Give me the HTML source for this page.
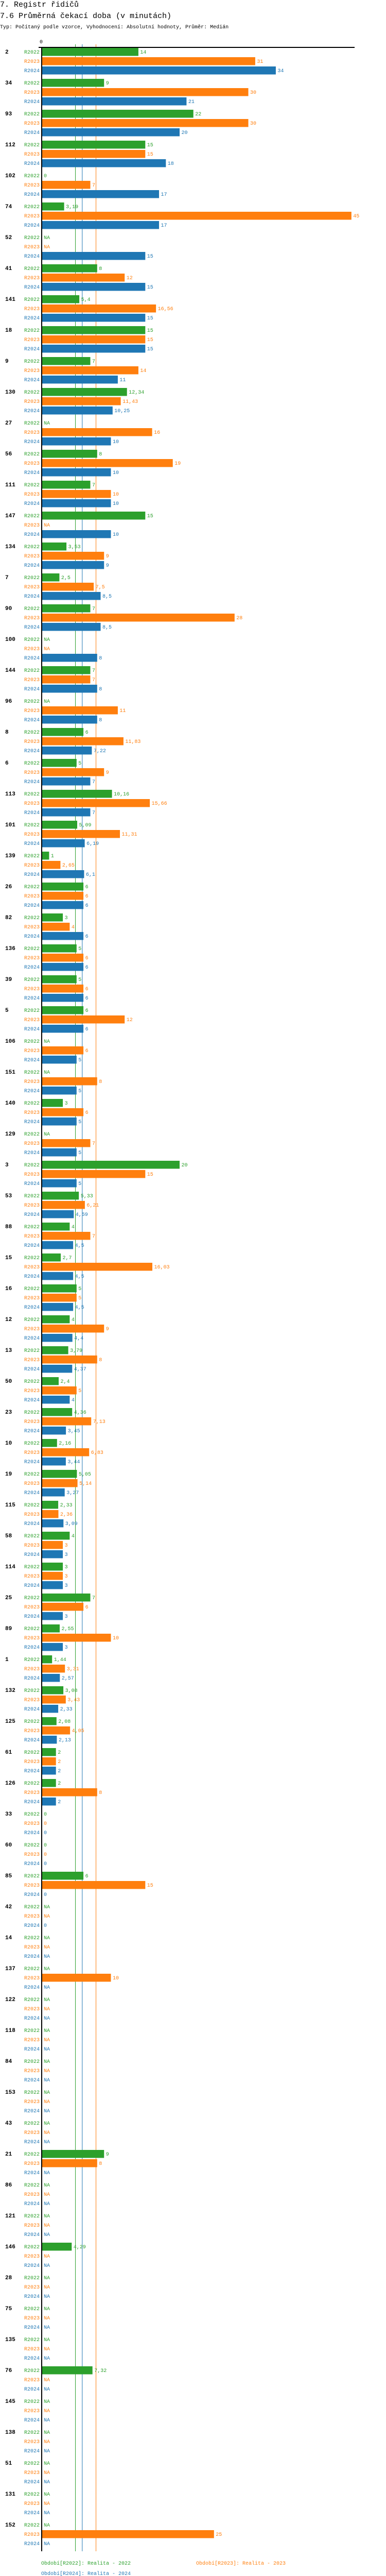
<!DOCTYPE html>
<html><head><meta charset="utf-8"><style>
html,body{margin:0;padding:0;background:#fff}
svg{display:block;vertical-align:top}
text{font-family:"Liberation Mono","DejaVu Sans Mono",monospace;font-size:10px}
.n{font-weight:bold;font-size:11px;fill:#000}
.l{text-anchor:end}
.a{fill:#2ca02c}.b{fill:#ff7f0e}.c{fill:#1f77b4}
.h{font-size:15px;fill:#000}
</style></head><body><svg width="750" height="5072" viewBox="0 0 750 5072" xmlns="http://www.w3.org/2000/svg">
<text class="h" x="0" y="13">7. Registr řidičů</text>
<text class="h" x="0" y="35">7.6 Průměrná čekací doba (v minutách)</text>
<text x="0" y="55" fill="#000">Typ: Počítaný podle vzorce, Vyhodnocení: Absolutní hodnoty, Průměr: Medián</text>
<text x="80" y="84" text-anchor="middle" fill="#000">0</text>
<rect x="146" y="86" width="1" height="4866" fill="#2ca02c"/>
<rect x="159.3" y="86" width="1" height="4866" fill="#1f77b4"/>
<rect x="186" y="86" width="1" height="4866" fill="#ff7f0e"/>
<rect x="75" y="91" width="614" height="2" fill="#000"/>
<rect x="80" y="91" width="2" height="4861" fill="#000"/>

<g transform="translate(0,93)"><text class="n" x="10" y="11">2</text><text class="l a" x="77" y="11">R2022</text><text class="l b" x="77" y="29">R2023</text><text class="l c" x="77" y="47">R2024</text>
<rect class="a" x="82" y="0" width="186.9" height="15.5"/><text class="a" x="272.4" y="11">14</text>
<rect class="b" x="82" y="18" width="413.9" height="15.5"/><text class="b" x="499.4" y="29">31</text>
<rect class="c" x="82" y="36" width="453.9" height="15.5"/><text class="c" x="539.4" y="47">34</text></g>

<g transform="translate(0,153)"><text class="n" x="10" y="11">34</text><text class="l a" x="77" y="11">R2022</text><text class="l b" x="77" y="29">R2023</text><text class="l c" x="77" y="47">R2024</text>
<rect class="a" x="82" y="0" width="120.2" height="15.5"/><text class="a" x="205.7" y="11">9</text>
<rect class="b" x="82" y="18" width="400.5" height="15.5"/><text class="b" x="486" y="29">30</text>
<rect class="c" x="82" y="36" width="280.4" height="15.5"/><text class="c" x="365.9" y="47">21</text></g>

<g transform="translate(0,213)"><text class="n" x="10" y="11">93</text><text class="l a" x="77" y="11">R2022</text><text class="l b" x="77" y="29">R2023</text><text class="l c" x="77" y="47">R2024</text>
<rect class="a" x="82" y="0" width="293.7" height="15.5"/><text class="a" x="379.2" y="11">22</text>
<rect class="b" x="82" y="18" width="400.5" height="15.5"/><text class="b" x="486" y="29">30</text>
<rect class="c" x="82" y="36" width="267" height="15.5"/><text class="c" x="352.5" y="47">20</text></g>

<g transform="translate(0,273)"><text class="n" x="10" y="11">112</text><text class="l a" x="77" y="11">R2022</text><text class="l b" x="77" y="29">R2023</text><text class="l c" x="77" y="47">R2024</text>
<rect class="a" x="82" y="0" width="200.3" height="15.5"/><text class="a" x="285.8" y="11">15</text>
<rect class="b" x="82" y="18" width="200.3" height="15.5"/><text class="b" x="285.8" y="29">15</text>
<rect class="c" x="82" y="36" width="240.3" height="15.5"/><text class="c" x="325.8" y="47">18</text></g>

<g transform="translate(0,333)"><text class="n" x="10" y="11">102</text><text class="l a" x="77" y="11">R2022</text><text class="l b" x="77" y="29">R2023</text><text class="l c" x="77" y="47">R2024</text>
<text class="a" x="85" y="11">0</text>
<rect class="b" x="82" y="18" width="93.5" height="15.5"/><text class="b" x="179" y="29">7</text>
<rect class="c" x="82" y="36" width="227" height="15.5"/><text class="c" x="312.5" y="47">17</text></g>

<g transform="translate(0,393)"><text class="n" x="10" y="11">74</text><text class="l a" x="77" y="11">R2022</text><text class="l b" x="77" y="29">R2023</text><text class="l c" x="77" y="47">R2024</text>
<rect class="a" x="82" y="0" width="42.6" height="15.5"/><text class="a" x="128.1" y="11">3,19</text>
<rect class="b" x="82" y="18" width="600.8" height="15.5"/><text class="b" x="686.3" y="29">45</text>
<rect class="c" x="82" y="36" width="227" height="15.5"/><text class="c" x="312.5" y="47">17</text></g>

<g transform="translate(0,453)"><text class="n" x="10" y="11">52</text><text class="l a" x="77" y="11">R2022</text><text class="l b" x="77" y="29">R2023</text><text class="l c" x="77" y="47">R2024</text>
<text class="a" x="85" y="11">NA</text>
<text class="b" x="85" y="29">NA</text>
<rect class="c" x="82" y="36" width="200.3" height="15.5"/><text class="c" x="285.8" y="47">15</text></g>

<g transform="translate(0,513)"><text class="n" x="10" y="11">41</text><text class="l a" x="77" y="11">R2022</text><text class="l b" x="77" y="29">R2023</text><text class="l c" x="77" y="47">R2024</text>
<rect class="a" x="82" y="0" width="106.8" height="15.5"/><text class="a" x="192.3" y="11">8</text>
<rect class="b" x="82" y="18" width="160.2" height="15.5"/><text class="b" x="245.7" y="29">12</text>
<rect class="c" x="82" y="36" width="200.3" height="15.5"/><text class="c" x="285.8" y="47">15</text></g>

<g transform="translate(0,573)"><text class="n" x="10" y="11">141</text><text class="l a" x="77" y="11">R2022</text><text class="l b" x="77" y="29">R2023</text><text class="l c" x="77" y="47">R2024</text>
<rect class="a" x="82" y="0" width="72.1" height="15.5"/><text class="a" x="157.6" y="11">5,4</text>
<rect class="b" x="82" y="18" width="221.1" height="15.5"/><text class="b" x="306.6" y="29">16,56</text>
<rect class="c" x="82" y="36" width="200.3" height="15.5"/><text class="c" x="285.8" y="47">15</text></g>

<g transform="translate(0,633)"><text class="n" x="10" y="11">18</text><text class="l a" x="77" y="11">R2022</text><text class="l b" x="77" y="29">R2023</text><text class="l c" x="77" y="47">R2024</text>
<rect class="a" x="82" y="0" width="200.3" height="15.5"/><text class="a" x="285.8" y="11">15</text>
<rect class="b" x="82" y="18" width="200.3" height="15.5"/><text class="b" x="285.8" y="29">15</text>
<rect class="c" x="82" y="36" width="200.3" height="15.5"/><text class="c" x="285.8" y="47">15</text></g>

<g transform="translate(0,693)"><text class="n" x="10" y="11">9</text><text class="l a" x="77" y="11">R2022</text><text class="l b" x="77" y="29">R2023</text><text class="l c" x="77" y="47">R2024</text>
<rect class="a" x="82" y="0" width="93.5" height="15.5"/><text class="a" x="179" y="11">7</text>
<rect class="b" x="82" y="18" width="186.9" height="15.5"/><text class="b" x="272.4" y="29">14</text>
<rect class="c" x="82" y="36" width="146.9" height="15.5"/><text class="c" x="232.4" y="47">11</text></g>

<g transform="translate(0,753)"><text class="n" x="10" y="11">130</text><text class="l a" x="77" y="11">R2022</text><text class="l b" x="77" y="29">R2023</text><text class="l c" x="77" y="47">R2024</text>
<rect class="a" x="82" y="0" width="164.7" height="15.5"/><text class="a" x="250.2" y="11">12,34</text>
<rect class="b" x="82" y="18" width="152.6" height="15.5"/><text class="b" x="238.1" y="29">11,43</text>
<rect class="c" x="82" y="36" width="136.8" height="15.5"/><text class="c" x="222.3" y="47">10,25</text></g>

<g transform="translate(0,813)"><text class="n" x="10" y="11">27</text><text class="l a" x="77" y="11">R2022</text><text class="l b" x="77" y="29">R2023</text><text class="l c" x="77" y="47">R2024</text>
<text class="a" x="85" y="11">NA</text>
<rect class="b" x="82" y="18" width="213.6" height="15.5"/><text class="b" x="299.1" y="29">16</text>
<rect class="c" x="82" y="36" width="133.5" height="15.5"/><text class="c" x="219" y="47">10</text></g>

<g transform="translate(0,873)"><text class="n" x="10" y="11">56</text><text class="l a" x="77" y="11">R2022</text><text class="l b" x="77" y="29">R2023</text><text class="l c" x="77" y="47">R2024</text>
<rect class="a" x="82" y="0" width="106.8" height="15.5"/><text class="a" x="192.3" y="11">8</text>
<rect class="b" x="82" y="18" width="253.7" height="15.5"/><text class="b" x="339.2" y="29">19</text>
<rect class="c" x="82" y="36" width="133.5" height="15.5"/><text class="c" x="219" y="47">10</text></g>

<g transform="translate(0,933)"><text class="n" x="10" y="11">111</text><text class="l a" x="77" y="11">R2022</text><text class="l b" x="77" y="29">R2023</text><text class="l c" x="77" y="47">R2024</text>
<rect class="a" x="82" y="0" width="93.5" height="15.5"/><text class="a" x="179" y="11">7</text>
<rect class="b" x="82" y="18" width="133.5" height="15.5"/><text class="b" x="219" y="29">10</text>
<rect class="c" x="82" y="36" width="133.5" height="15.5"/><text class="c" x="219" y="47">10</text></g>

<g transform="translate(0,993)"><text class="n" x="10" y="11">147</text><text class="l a" x="77" y="11">R2022</text><text class="l b" x="77" y="29">R2023</text><text class="l c" x="77" y="47">R2024</text>
<rect class="a" x="82" y="0" width="200.3" height="15.5"/><text class="a" x="285.8" y="11">15</text>
<text class="b" x="85" y="29">NA</text>
<rect class="c" x="82" y="36" width="133.5" height="15.5"/><text class="c" x="219" y="47">10</text></g>

<g transform="translate(0,1053)"><text class="n" x="10" y="11">134</text><text class="l a" x="77" y="11">R2022</text><text class="l b" x="77" y="29">R2023</text><text class="l c" x="77" y="47">R2024</text>
<rect class="a" x="82" y="0" width="47.1" height="15.5"/><text class="a" x="132.6" y="11">3,53</text>
<rect class="b" x="82" y="18" width="120.2" height="15.5"/><text class="b" x="205.7" y="29">9</text>
<rect class="c" x="82" y="36" width="120.2" height="15.5"/><text class="c" x="205.7" y="47">9</text></g>

<g transform="translate(0,1113)"><text class="n" x="10" y="11">7</text><text class="l a" x="77" y="11">R2022</text><text class="l b" x="77" y="29">R2023</text><text class="l c" x="77" y="47">R2024</text>
<rect class="a" x="82" y="0" width="33.4" height="15.5"/><text class="a" x="118.9" y="11">2,5</text>
<rect class="b" x="82" y="18" width="100.1" height="15.5"/><text class="b" x="185.6" y="29">7,5</text>
<rect class="c" x="82" y="36" width="113.5" height="15.5"/><text class="c" x="199" y="47">8,5</text></g>

<g transform="translate(0,1173)"><text class="n" x="10" y="11">90</text><text class="l a" x="77" y="11">R2022</text><text class="l b" x="77" y="29">R2023</text><text class="l c" x="77" y="47">R2024</text>
<rect class="a" x="82" y="0" width="93.5" height="15.5"/><text class="a" x="179" y="11">7</text>
<rect class="b" x="82" y="18" width="373.8" height="15.5"/><text class="b" x="459.3" y="29">28</text>
<rect class="c" x="82" y="36" width="113.5" height="15.5"/><text class="c" x="199" y="47">8,5</text></g>

<g transform="translate(0,1233)"><text class="n" x="10" y="11">100</text><text class="l a" x="77" y="11">R2022</text><text class="l b" x="77" y="29">R2023</text><text class="l c" x="77" y="47">R2024</text>
<text class="a" x="85" y="11">NA</text>
<text class="b" x="85" y="29">NA</text>
<rect class="c" x="82" y="36" width="106.8" height="15.5"/><text class="c" x="192.3" y="47">8</text></g>

<g transform="translate(0,1293)"><text class="n" x="10" y="11">144</text><text class="l a" x="77" y="11">R2022</text><text class="l b" x="77" y="29">R2023</text><text class="l c" x="77" y="47">R2024</text>
<rect class="a" x="82" y="0" width="93.5" height="15.5"/><text class="a" x="179" y="11">7</text>
<rect class="b" x="82" y="18" width="93.5" height="15.5"/><text class="b" x="179" y="29">7</text>
<rect class="c" x="82" y="36" width="106.8" height="15.5"/><text class="c" x="192.3" y="47">8</text></g>

<g transform="translate(0,1353)"><text class="n" x="10" y="11">96</text><text class="l a" x="77" y="11">R2022</text><text class="l b" x="77" y="29">R2023</text><text class="l c" x="77" y="47">R2024</text>
<text class="a" x="85" y="11">NA</text>
<rect class="b" x="82" y="18" width="146.9" height="15.5"/><text class="b" x="232.4" y="29">11</text>
<rect class="c" x="82" y="36" width="106.8" height="15.5"/><text class="c" x="192.3" y="47">8</text></g>

<g transform="translate(0,1413)"><text class="n" x="10" y="11">8</text><text class="l a" x="77" y="11">R2022</text><text class="l b" x="77" y="29">R2023</text><text class="l c" x="77" y="47">R2024</text>
<rect class="a" x="82" y="0" width="80.1" height="15.5"/><text class="a" x="165.6" y="11">6</text>
<rect class="b" x="82" y="18" width="157.9" height="15.5"/><text class="b" x="243.4" y="29">11,83</text>
<rect class="c" x="82" y="36" width="96.4" height="15.5"/><text class="c" x="181.9" y="47">7,22</text></g>

<g transform="translate(0,1473)"><text class="n" x="10" y="11">6</text><text class="l a" x="77" y="11">R2022</text><text class="l b" x="77" y="29">R2023</text><text class="l c" x="77" y="47">R2024</text>
<rect class="a" x="82" y="0" width="66.8" height="15.5"/><text class="a" x="152.3" y="11">5</text>
<rect class="b" x="82" y="18" width="120.2" height="15.5"/><text class="b" x="205.7" y="29">9</text>
<rect class="c" x="82" y="36" width="93.5" height="15.5"/><text class="c" x="179" y="47">7</text></g>

<g transform="translate(0,1533)"><text class="n" x="10" y="11">113</text><text class="l a" x="77" y="11">R2022</text><text class="l b" x="77" y="29">R2023</text><text class="l c" x="77" y="47">R2024</text>
<rect class="a" x="82" y="0" width="135.6" height="15.5"/><text class="a" x="221.1" y="11">10,16</text>
<rect class="b" x="82" y="18" width="209.1" height="15.5"/><text class="b" x="294.6" y="29">15,66</text>
<rect class="c" x="82" y="36" width="93.5" height="15.5"/><text class="c" x="179" y="47">7</text></g>

<g transform="translate(0,1593)"><text class="n" x="10" y="11">101</text><text class="l a" x="77" y="11">R2022</text><text class="l b" x="77" y="29">R2023</text><text class="l c" x="77" y="47">R2024</text>
<rect class="a" x="82" y="0" width="68" height="15.5"/><text class="a" x="153.5" y="11">5,09</text>
<rect class="b" x="82" y="18" width="151" height="15.5"/><text class="b" x="236.5" y="29">11,31</text>
<rect class="c" x="82" y="36" width="82.6" height="15.5"/><text class="c" x="168.1" y="47">6,19</text></g>

<g transform="translate(0,1653)"><text class="n" x="10" y="11">139</text><text class="l a" x="77" y="11">R2022</text><text class="l b" x="77" y="29">R2023</text><text class="l c" x="77" y="47">R2024</text>
<rect class="a" x="82" y="0" width="13.4" height="15.5"/><text class="a" x="98.9" y="11">1</text>
<rect class="b" x="82" y="18" width="35.4" height="15.5"/><text class="b" x="120.9" y="29">2,65</text>
<rect class="c" x="82" y="36" width="81.4" height="15.5"/><text class="c" x="166.9" y="47">6,1</text></g>

<g transform="translate(0,1713)"><text class="n" x="10" y="11">26</text><text class="l a" x="77" y="11">R2022</text><text class="l b" x="77" y="29">R2023</text><text class="l c" x="77" y="47">R2024</text>
<rect class="a" x="82" y="0" width="80.1" height="15.5"/><text class="a" x="165.6" y="11">6</text>
<rect class="b" x="82" y="18" width="80.1" height="15.5"/><text class="b" x="165.6" y="29">6</text>
<rect class="c" x="82" y="36" width="80.1" height="15.5"/><text class="c" x="165.6" y="47">6</text></g>

<g transform="translate(0,1773)"><text class="n" x="10" y="11">82</text><text class="l a" x="77" y="11">R2022</text><text class="l b" x="77" y="29">R2023</text><text class="l c" x="77" y="47">R2024</text>
<rect class="a" x="82" y="0" width="40.1" height="15.5"/><text class="a" x="125.6" y="11">3</text>
<rect class="b" x="82" y="18" width="53.4" height="15.5"/><text class="b" x="138.9" y="29">4</text>
<rect class="c" x="82" y="36" width="80.1" height="15.5"/><text class="c" x="165.6" y="47">6</text></g>

<g transform="translate(0,1833)"><text class="n" x="10" y="11">136</text><text class="l a" x="77" y="11">R2022</text><text class="l b" x="77" y="29">R2023</text><text class="l c" x="77" y="47">R2024</text>
<rect class="a" x="82" y="0" width="66.8" height="15.5"/><text class="a" x="152.3" y="11">5</text>
<rect class="b" x="82" y="18" width="80.1" height="15.5"/><text class="b" x="165.6" y="29">6</text>
<rect class="c" x="82" y="36" width="80.1" height="15.5"/><text class="c" x="165.6" y="47">6</text></g>

<g transform="translate(0,1893)"><text class="n" x="10" y="11">39</text><text class="l a" x="77" y="11">R2022</text><text class="l b" x="77" y="29">R2023</text><text class="l c" x="77" y="47">R2024</text>
<rect class="a" x="82" y="0" width="66.8" height="15.5"/><text class="a" x="152.3" y="11">5</text>
<rect class="b" x="82" y="18" width="80.1" height="15.5"/><text class="b" x="165.6" y="29">6</text>
<rect class="c" x="82" y="36" width="80.1" height="15.5"/><text class="c" x="165.6" y="47">6</text></g>

<g transform="translate(0,1953)"><text class="n" x="10" y="11">5</text><text class="l a" x="77" y="11">R2022</text><text class="l b" x="77" y="29">R2023</text><text class="l c" x="77" y="47">R2024</text>
<rect class="a" x="82" y="0" width="80.1" height="15.5"/><text class="a" x="165.6" y="11">6</text>
<rect class="b" x="82" y="18" width="160.2" height="15.5"/><text class="b" x="245.7" y="29">12</text>
<rect class="c" x="82" y="36" width="80.1" height="15.5"/><text class="c" x="165.6" y="47">6</text></g>

<g transform="translate(0,2013)"><text class="n" x="10" y="11">106</text><text class="l a" x="77" y="11">R2022</text><text class="l b" x="77" y="29">R2023</text><text class="l c" x="77" y="47">R2024</text>
<text class="a" x="85" y="11">NA</text>
<rect class="b" x="82" y="18" width="80.1" height="15.5"/><text class="b" x="165.6" y="29">6</text>
<rect class="c" x="82" y="36" width="66.8" height="15.5"/><text class="c" x="152.3" y="47">5</text></g>

<g transform="translate(0,2073)"><text class="n" x="10" y="11">151</text><text class="l a" x="77" y="11">R2022</text><text class="l b" x="77" y="29">R2023</text><text class="l c" x="77" y="47">R2024</text>
<text class="a" x="85" y="11">NA</text>
<rect class="b" x="82" y="18" width="106.8" height="15.5"/><text class="b" x="192.3" y="29">8</text>
<rect class="c" x="82" y="36" width="66.8" height="15.5"/><text class="c" x="152.3" y="47">5</text></g>

<g transform="translate(0,2133)"><text class="n" x="10" y="11">140</text><text class="l a" x="77" y="11">R2022</text><text class="l b" x="77" y="29">R2023</text><text class="l c" x="77" y="47">R2024</text>
<rect class="a" x="82" y="0" width="40.1" height="15.5"/><text class="a" x="125.6" y="11">3</text>
<rect class="b" x="82" y="18" width="80.1" height="15.5"/><text class="b" x="165.6" y="29">6</text>
<rect class="c" x="82" y="36" width="66.8" height="15.5"/><text class="c" x="152.3" y="47">5</text></g>

<g transform="translate(0,2193)"><text class="n" x="10" y="11">129</text><text class="l a" x="77" y="11">R2022</text><text class="l b" x="77" y="29">R2023</text><text class="l c" x="77" y="47">R2024</text>
<text class="a" x="85" y="11">NA</text>
<rect class="b" x="82" y="18" width="93.5" height="15.5"/><text class="b" x="179" y="29">7</text>
<rect class="c" x="82" y="36" width="66.8" height="15.5"/><text class="c" x="152.3" y="47">5</text></g>

<g transform="translate(0,2253)"><text class="n" x="10" y="11">3</text><text class="l a" x="77" y="11">R2022</text><text class="l b" x="77" y="29">R2023</text><text class="l c" x="77" y="47">R2024</text>
<rect class="a" x="82" y="0" width="267" height="15.5"/><text class="a" x="352.5" y="11">20</text>
<rect class="b" x="82" y="18" width="200.3" height="15.5"/><text class="b" x="285.8" y="29">15</text>
<rect class="c" x="82" y="36" width="66.8" height="15.5"/><text class="c" x="152.3" y="47">5</text></g>

<g transform="translate(0,2313)"><text class="n" x="10" y="11">53</text><text class="l a" x="77" y="11">R2022</text><text class="l b" x="77" y="29">R2023</text><text class="l c" x="77" y="47">R2024</text>
<rect class="a" x="82" y="0" width="71.2" height="15.5"/><text class="a" x="156.7" y="11">5,33</text>
<rect class="b" x="82" y="18" width="82.9" height="15.5"/><text class="b" x="168.4" y="29">6,21</text>
<rect class="c" x="82" y="36" width="61.3" height="15.5"/><text class="c" x="146.8" y="47">4,59</text></g>

<g transform="translate(0,2373)"><text class="n" x="10" y="11">88</text><text class="l a" x="77" y="11">R2022</text><text class="l b" x="77" y="29">R2023</text><text class="l c" x="77" y="47">R2024</text>
<rect class="a" x="82" y="0" width="53.4" height="15.5"/><text class="a" x="138.9" y="11">4</text>
<rect class="b" x="82" y="18" width="93.5" height="15.5"/><text class="b" x="179" y="29">7</text>
<rect class="c" x="82" y="36" width="60.1" height="15.5"/><text class="c" x="145.6" y="47">4,5</text></g>

<g transform="translate(0,2433)"><text class="n" x="10" y="11">15</text><text class="l a" x="77" y="11">R2022</text><text class="l b" x="77" y="29">R2023</text><text class="l c" x="77" y="47">R2024</text>
<rect class="a" x="82" y="0" width="36" height="15.5"/><text class="a" x="121.5" y="11">2,7</text>
<rect class="b" x="82" y="18" width="214" height="15.5"/><text class="b" x="299.5" y="29">16,03</text>
<rect class="c" x="82" y="36" width="60.1" height="15.5"/><text class="c" x="145.6" y="47">4,5</text></g>

<g transform="translate(0,2493)"><text class="n" x="10" y="11">16</text><text class="l a" x="77" y="11">R2022</text><text class="l b" x="77" y="29">R2023</text><text class="l c" x="77" y="47">R2024</text>
<rect class="a" x="82" y="0" width="66.8" height="15.5"/><text class="a" x="152.3" y="11">5</text>
<rect class="b" x="82" y="18" width="66.8" height="15.5"/><text class="b" x="152.3" y="29">5</text>
<rect class="c" x="82" y="36" width="60.1" height="15.5"/><text class="c" x="145.6" y="47">4,5</text></g>

<g transform="translate(0,2553)"><text class="n" x="10" y="11">12</text><text class="l a" x="77" y="11">R2022</text><text class="l b" x="77" y="29">R2023</text><text class="l c" x="77" y="47">R2024</text>
<rect class="a" x="82" y="0" width="53.4" height="15.5"/><text class="a" x="138.9" y="11">4</text>
<rect class="b" x="82" y="18" width="120.2" height="15.5"/><text class="b" x="205.7" y="29">9</text>
<rect class="c" x="82" y="36" width="58.7" height="15.5"/><text class="c" x="144.2" y="47">4,4</text></g>

<g transform="translate(0,2613)"><text class="n" x="10" y="11">13</text><text class="l a" x="77" y="11">R2022</text><text class="l b" x="77" y="29">R2023</text><text class="l c" x="77" y="47">R2024</text>
<rect class="a" x="82" y="0" width="50.6" height="15.5"/><text class="a" x="136.1" y="11">3,79</text>
<rect class="b" x="82" y="18" width="106.8" height="15.5"/><text class="b" x="192.3" y="29">8</text>
<rect class="c" x="82" y="36" width="58.3" height="15.5"/><text class="c" x="143.8" y="47">4,37</text></g>

<g transform="translate(0,2673)"><text class="n" x="10" y="11">50</text><text class="l a" x="77" y="11">R2022</text><text class="l b" x="77" y="29">R2023</text><text class="l c" x="77" y="47">R2024</text>
<rect class="a" x="82" y="0" width="32" height="15.5"/><text class="a" x="117.5" y="11">2,4</text>
<rect class="b" x="82" y="18" width="66.8" height="15.5"/><text class="b" x="152.3" y="29">5</text>
<rect class="c" x="82" y="36" width="53.4" height="15.5"/><text class="c" x="138.9" y="47">4</text></g>

<g transform="translate(0,2733)"><text class="n" x="10" y="11">23</text><text class="l a" x="77" y="11">R2022</text><text class="l b" x="77" y="29">R2023</text><text class="l c" x="77" y="47">R2024</text>
<rect class="a" x="82" y="0" width="58.2" height="15.5"/><text class="a" x="143.7" y="11">4,36</text>
<rect class="b" x="82" y="18" width="95.2" height="15.5"/><text class="b" x="180.7" y="29">7,13</text>
<rect class="c" x="82" y="36" width="46.1" height="15.5"/><text class="c" x="131.6" y="47">3,45</text></g>

<g transform="translate(0,2793)"><text class="n" x="10" y="11">10</text><text class="l a" x="77" y="11">R2022</text><text class="l b" x="77" y="29">R2023</text><text class="l c" x="77" y="47">R2024</text>
<rect class="a" x="82" y="0" width="28.8" height="15.5"/><text class="a" x="114.3" y="11">2,16</text>
<rect class="b" x="82" y="18" width="91.2" height="15.5"/><text class="b" x="176.7" y="29">6,83</text>
<rect class="c" x="82" y="36" width="45.9" height="15.5"/><text class="c" x="131.4" y="47">3,44</text></g>

<g transform="translate(0,2853)"><text class="n" x="10" y="11">19</text><text class="l a" x="77" y="11">R2022</text><text class="l b" x="77" y="29">R2023</text><text class="l c" x="77" y="47">R2024</text>
<rect class="a" x="82" y="0" width="67.4" height="15.5"/><text class="a" x="152.9" y="11">5,05</text>
<rect class="b" x="82" y="18" width="68.6" height="15.5"/><text class="b" x="154.1" y="29">5,14</text>
<rect class="c" x="82" y="36" width="43.7" height="15.5"/><text class="c" x="129.2" y="47">3,27</text></g>

<g transform="translate(0,2913)"><text class="n" x="10" y="11">115</text><text class="l a" x="77" y="11">R2022</text><text class="l b" x="77" y="29">R2023</text><text class="l c" x="77" y="47">R2024</text>
<rect class="a" x="82" y="0" width="31.1" height="15.5"/><text class="a" x="116.6" y="11">2,33</text>
<rect class="b" x="82" y="18" width="31.5" height="15.5"/><text class="b" x="117" y="29">2,36</text>
<rect class="c" x="82" y="36" width="41.3" height="15.5"/><text class="c" x="126.8" y="47">3,09</text></g>

<g transform="translate(0,2973)"><text class="n" x="10" y="11">58</text><text class="l a" x="77" y="11">R2022</text><text class="l b" x="77" y="29">R2023</text><text class="l c" x="77" y="47">R2024</text>
<rect class="a" x="82" y="0" width="53.4" height="15.5"/><text class="a" x="138.9" y="11">4</text>
<rect class="b" x="82" y="18" width="40.1" height="15.5"/><text class="b" x="125.6" y="29">3</text>
<rect class="c" x="82" y="36" width="40.1" height="15.5"/><text class="c" x="125.6" y="47">3</text></g>

<g transform="translate(0,3033)"><text class="n" x="10" y="11">114</text><text class="l a" x="77" y="11">R2022</text><text class="l b" x="77" y="29">R2023</text><text class="l c" x="77" y="47">R2024</text>
<rect class="a" x="82" y="0" width="40.1" height="15.5"/><text class="a" x="125.6" y="11">3</text>
<rect class="b" x="82" y="18" width="40.1" height="15.5"/><text class="b" x="125.6" y="29">3</text>
<rect class="c" x="82" y="36" width="40.1" height="15.5"/><text class="c" x="125.6" y="47">3</text></g>

<g transform="translate(0,3093)"><text class="n" x="10" y="11">25</text><text class="l a" x="77" y="11">R2022</text><text class="l b" x="77" y="29">R2023</text><text class="l c" x="77" y="47">R2024</text>
<rect class="a" x="82" y="0" width="93.5" height="15.5"/><text class="a" x="179" y="11">7</text>
<rect class="b" x="82" y="18" width="80.1" height="15.5"/><text class="b" x="165.6" y="29">6</text>
<rect class="c" x="82" y="36" width="40.1" height="15.5"/><text class="c" x="125.6" y="47">3</text></g>

<g transform="translate(0,3153)"><text class="n" x="10" y="11">89</text><text class="l a" x="77" y="11">R2022</text><text class="l b" x="77" y="29">R2023</text><text class="l c" x="77" y="47">R2024</text>
<rect class="a" x="82" y="0" width="34" height="15.5"/><text class="a" x="119.5" y="11">2,55</text>
<rect class="b" x="82" y="18" width="133.5" height="15.5"/><text class="b" x="219" y="29">10</text>
<rect class="c" x="82" y="36" width="40.1" height="15.5"/><text class="c" x="125.6" y="47">3</text></g>

<g transform="translate(0,3213)"><text class="n" x="10" y="11">1</text><text class="l a" x="77" y="11">R2022</text><text class="l b" x="77" y="29">R2023</text><text class="l c" x="77" y="47">R2024</text>
<rect class="a" x="82" y="0" width="19.2" height="15.5"/><text class="a" x="104.7" y="11">1,44</text>
<rect class="b" x="82" y="18" width="44.2" height="15.5"/><text class="b" x="129.7" y="29">3,31</text>
<rect class="c" x="82" y="36" width="34.3" height="15.5"/><text class="c" x="119.8" y="47">2,57</text></g>

<g transform="translate(0,3273)"><text class="n" x="10" y="11">132</text><text class="l a" x="77" y="11">R2022</text><text class="l b" x="77" y="29">R2023</text><text class="l c" x="77" y="47">R2024</text>
<rect class="a" x="82" y="0" width="41.1" height="15.5"/><text class="a" x="126.6" y="11">3,08</text>
<rect class="b" x="82" y="18" width="45.8" height="15.5"/><text class="b" x="131.3" y="29">3,43</text>
<rect class="c" x="82" y="36" width="31.1" height="15.5"/><text class="c" x="116.6" y="47">2,33</text></g>

<g transform="translate(0,3333)"><text class="n" x="10" y="11">125</text><text class="l a" x="77" y="11">R2022</text><text class="l b" x="77" y="29">R2023</text><text class="l c" x="77" y="47">R2024</text>
<rect class="a" x="82" y="0" width="27.8" height="15.5"/><text class="a" x="113.3" y="11">2,08</text>
<rect class="b" x="82" y="18" width="54.1" height="15.5"/><text class="b" x="139.6" y="29">4,05</text>
<rect class="c" x="82" y="36" width="28.4" height="15.5"/><text class="c" x="113.9" y="47">2,13</text></g>

<g transform="translate(0,3393)"><text class="n" x="10" y="11">61</text><text class="l a" x="77" y="11">R2022</text><text class="l b" x="77" y="29">R2023</text><text class="l c" x="77" y="47">R2024</text>
<rect class="a" x="82" y="0" width="26.7" height="15.5"/><text class="a" x="112.2" y="11">2</text>
<rect class="b" x="82" y="18" width="26.7" height="15.5"/><text class="b" x="112.2" y="29">2</text>
<rect class="c" x="82" y="36" width="26.7" height="15.5"/><text class="c" x="112.2" y="47">2</text></g>

<g transform="translate(0,3453)"><text class="n" x="10" y="11">126</text><text class="l a" x="77" y="11">R2022</text><text class="l b" x="77" y="29">R2023</text><text class="l c" x="77" y="47">R2024</text>
<rect class="a" x="82" y="0" width="26.7" height="15.5"/><text class="a" x="112.2" y="11">2</text>
<rect class="b" x="82" y="18" width="106.8" height="15.5"/><text class="b" x="192.3" y="29">8</text>
<rect class="c" x="82" y="36" width="26.7" height="15.5"/><text class="c" x="112.2" y="47">2</text></g>

<g transform="translate(0,3513)"><text class="n" x="10" y="11">33</text><text class="l a" x="77" y="11">R2022</text><text class="l b" x="77" y="29">R2023</text><text class="l c" x="77" y="47">R2024</text>
<text class="a" x="85" y="11">0</text><text class="b" x="85" y="29">0</text><text class="c" x="85" y="47">0</text></g>

<g transform="translate(0,3573)"><text class="n" x="10" y="11">60</text><text class="l a" x="77" y="11">R2022</text><text class="l b" x="77" y="29">R2023</text><text class="l c" x="77" y="47">R2024</text>
<text class="a" x="85" y="11">0</text><text class="b" x="85" y="29">0</text><text class="c" x="85" y="47">0</text></g>

<g transform="translate(0,3633)"><text class="n" x="10" y="11">85</text><text class="l a" x="77" y="11">R2022</text><text class="l b" x="77" y="29">R2023</text><text class="l c" x="77" y="47">R2024</text>
<rect class="a" x="82" y="0" width="80.1" height="15.5"/><text class="a" x="165.6" y="11">6</text>
<rect class="b" x="82" y="18" width="200.3" height="15.5"/><text class="b" x="285.8" y="29">15</text>
<text class="c" x="85" y="47">0</text></g>

<g transform="translate(0,3693)"><text class="n" x="10" y="11">42</text><text class="l a" x="77" y="11">R2022</text><text class="l b" x="77" y="29">R2023</text><text class="l c" x="77" y="47">R2024</text>
<text class="a" x="85" y="11">NA</text><text class="b" x="85" y="29">NA</text><text class="c" x="85" y="47">0</text></g>

<g transform="translate(0,3753)"><text class="n" x="10" y="11">14</text><text class="l a" x="77" y="11">R2022</text><text class="l b" x="77" y="29">R2023</text><text class="l c" x="77" y="47">R2024</text>
<text class="a" x="85" y="11">NA</text><text class="b" x="85" y="29">NA</text><text class="c" x="85" y="47">NA</text></g>

<g transform="translate(0,3813)"><text class="n" x="10" y="11">137</text><text class="l a" x="77" y="11">R2022</text><text class="l b" x="77" y="29">R2023</text><text class="l c" x="77" y="47">R2024</text>
<text class="a" x="85" y="11">NA</text>
<rect class="b" x="82" y="18" width="133.5" height="15.5"/><text class="b" x="219" y="29">10</text>
<text class="c" x="85" y="47">NA</text></g>

<g transform="translate(0,3873)"><text class="n" x="10" y="11">122</text><text class="l a" x="77" y="11">R2022</text><text class="l b" x="77" y="29">R2023</text><text class="l c" x="77" y="47">R2024</text>
<text class="a" x="85" y="11">NA</text><text class="b" x="85" y="29">NA</text><text class="c" x="85" y="47">NA</text></g>

<g transform="translate(0,3933)"><text class="n" x="10" y="11">118</text><text class="l a" x="77" y="11">R2022</text><text class="l b" x="77" y="29">R2023</text><text class="l c" x="77" y="47">R2024</text>
<text class="a" x="85" y="11">NA</text><text class="b" x="85" y="29">NA</text><text class="c" x="85" y="47">NA</text></g>

<g transform="translate(0,3993)"><text class="n" x="10" y="11">84</text><text class="l a" x="77" y="11">R2022</text><text class="l b" x="77" y="29">R2023</text><text class="l c" x="77" y="47">R2024</text>
<text class="a" x="85" y="11">NA</text><text class="b" x="85" y="29">NA</text><text class="c" x="85" y="47">NA</text></g>

<g transform="translate(0,4053)"><text class="n" x="10" y="11">153</text><text class="l a" x="77" y="11">R2022</text><text class="l b" x="77" y="29">R2023</text><text class="l c" x="77" y="47">R2024</text>
<text class="a" x="85" y="11">NA</text><text class="b" x="85" y="29">NA</text><text class="c" x="85" y="47">NA</text></g>

<g transform="translate(0,4113)"><text class="n" x="10" y="11">43</text><text class="l a" x="77" y="11">R2022</text><text class="l b" x="77" y="29">R2023</text><text class="l c" x="77" y="47">R2024</text>
<text class="a" x="85" y="11">NA</text><text class="b" x="85" y="29">NA</text><text class="c" x="85" y="47">NA</text></g>

<g transform="translate(0,4173)"><text class="n" x="10" y="11">21</text><text class="l a" x="77" y="11">R2022</text><text class="l b" x="77" y="29">R2023</text><text class="l c" x="77" y="47">R2024</text>
<rect class="a" x="82" y="0" width="120.2" height="15.5"/><text class="a" x="205.7" y="11">9</text>
<rect class="b" x="82" y="18" width="106.8" height="15.5"/><text class="b" x="192.3" y="29">8</text>
<text class="c" x="85" y="47">NA</text></g>

<g transform="translate(0,4233)"><text class="n" x="10" y="11">86</text><text class="l a" x="77" y="11">R2022</text><text class="l b" x="77" y="29">R2023</text><text class="l c" x="77" y="47">R2024</text>
<text class="a" x="85" y="11">NA</text><text class="b" x="85" y="29">NA</text><text class="c" x="85" y="47">NA</text></g>

<g transform="translate(0,4293)"><text class="n" x="10" y="11">121</text><text class="l a" x="77" y="11">R2022</text><text class="l b" x="77" y="29">R2023</text><text class="l c" x="77" y="47">R2024</text>
<text class="a" x="85" y="11">NA</text><text class="b" x="85" y="29">NA</text><text class="c" x="85" y="47">NA</text></g>

<g transform="translate(0,4353)"><text class="n" x="10" y="11">146</text><text class="l a" x="77" y="11">R2022</text><text class="l b" x="77" y="29">R2023</text><text class="l c" x="77" y="47">R2024</text>
<rect class="a" x="82" y="0" width="57.3" height="15.5"/><text class="a" x="142.8" y="11">4,29</text>
<text class="b" x="85" y="29">NA</text><text class="c" x="85" y="47">NA</text></g>

<g transform="translate(0,4413)"><text class="n" x="10" y="11">28</text><text class="l a" x="77" y="11">R2022</text><text class="l b" x="77" y="29">R2023</text><text class="l c" x="77" y="47">R2024</text>
<text class="a" x="85" y="11">NA</text><text class="b" x="85" y="29">NA</text><text class="c" x="85" y="47">NA</text></g>

<g transform="translate(0,4473)"><text class="n" x="10" y="11">75</text><text class="l a" x="77" y="11">R2022</text><text class="l b" x="77" y="29">R2023</text><text class="l c" x="77" y="47">R2024</text>
<text class="a" x="85" y="11">NA</text><text class="b" x="85" y="29">NA</text><text class="c" x="85" y="47">NA</text></g>

<g transform="translate(0,4533)"><text class="n" x="10" y="11">135</text><text class="l a" x="77" y="11">R2022</text><text class="l b" x="77" y="29">R2023</text><text class="l c" x="77" y="47">R2024</text>
<text class="a" x="85" y="11">NA</text><text class="b" x="85" y="29">NA</text><text class="c" x="85" y="47">NA</text></g>

<g transform="translate(0,4593)"><text class="n" x="10" y="11">76</text><text class="l a" x="77" y="11">R2022</text><text class="l b" x="77" y="29">R2023</text><text class="l c" x="77" y="47">R2024</text>
<rect class="a" x="82" y="0" width="97.7" height="15.5"/><text class="a" x="183.2" y="11">7,32</text>
<text class="b" x="85" y="29">NA</text><text class="c" x="85" y="47">NA</text></g>

<g transform="translate(0,4653)"><text class="n" x="10" y="11">145</text><text class="l a" x="77" y="11">R2022</text><text class="l b" x="77" y="29">R2023</text><text class="l c" x="77" y="47">R2024</text>
<text class="a" x="85" y="11">NA</text><text class="b" x="85" y="29">NA</text><text class="c" x="85" y="47">NA</text></g>

<g transform="translate(0,4713)"><text class="n" x="10" y="11">138</text><text class="l a" x="77" y="11">R2022</text><text class="l b" x="77" y="29">R2023</text><text class="l c" x="77" y="47">R2024</text>
<text class="a" x="85" y="11">NA</text><text class="b" x="85" y="29">NA</text><text class="c" x="85" y="47">NA</text></g>

<g transform="translate(0,4773)"><text class="n" x="10" y="11">51</text><text class="l a" x="77" y="11">R2022</text><text class="l b" x="77" y="29">R2023</text><text class="l c" x="77" y="47">R2024</text>
<text class="a" x="85" y="11">NA</text><text class="b" x="85" y="29">NA</text><text class="c" x="85" y="47">NA</text></g>

<g transform="translate(0,4833)"><text class="n" x="10" y="11">131</text><text class="l a" x="77" y="11">R2022</text><text class="l b" x="77" y="29">R2023</text><text class="l c" x="77" y="47">R2024</text>
<text class="a" x="85" y="11">NA</text><text class="b" x="85" y="29">NA</text><text class="c" x="85" y="47">NA</text></g>

<g transform="translate(0,4893)"><text class="n" x="10" y="11">152</text><text class="l a" x="77" y="11">R2022</text><text class="l b" x="77" y="29">R2023</text><text class="l c" x="77" y="47">R2024</text>
<text class="a" x="85" y="11">NA</text>
<rect class="b" x="82" y="18" width="333.8" height="15.5"/><text class="b" x="419.3" y="29">25</text>
<text class="c" x="85" y="47">NA</text></g>

<text class="a" x="80" y="4978">Období[R2022]: Realita - 2022</text>
<text class="b" x="381" y="4978">Období[R2023]: Realita - 2023</text>
<text class="c" x="80" y="4998">Období[R2024]: Realita - 2024</text>
<text class="a" x="80" y="5018">Medián: 5</text><text class="a" x="331" y="5018">Min: 0</text><text class="a" x="532" y="5018">Max: 22</text>
<text class="b" x="80" y="5038">Medián: 8</text><text class="b" x="331" y="5038">Min: 0</text><text class="b" x="532" y="5038">Max: 45</text>
<text class="c" x="80" y="5058">Medián: 6</text><text class="c" x="331" y="5058">Min: 0</text><text class="c" x="532" y="5058">Max: 34</text>
</svg></body></html>
